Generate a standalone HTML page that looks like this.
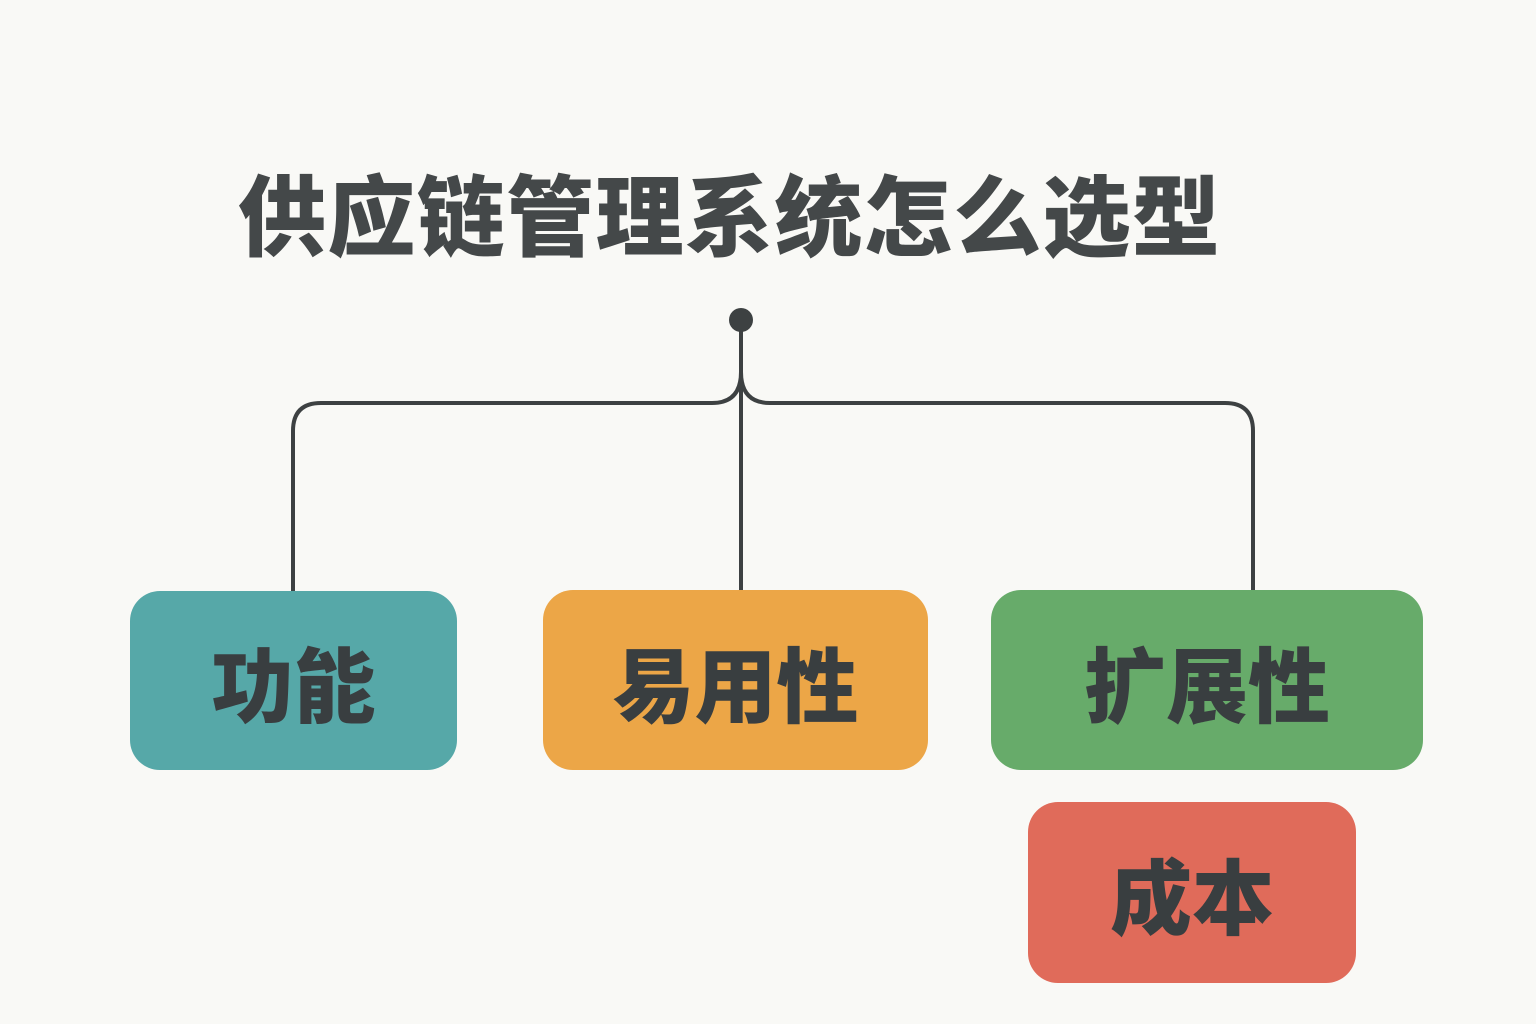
<!DOCTYPE html>
<html><head><meta charset="utf-8"><style>
body{margin:0;width:1536px;height:1024px;background:#f9f9f6;position:relative;overflow:hidden;font-family:"Liberation Sans","Noto Sans CJK SC",sans-serif;}
.t{position:absolute;left:238px;top:164px;font-size:88px;font-weight:900;color:#444849;letter-spacing:1.4px;line-height:110px;white-space:nowrap;}
.b{position:absolute;border-radius:30px;display:flex;align-items:center;justify-content:center;font-size:82px;font-weight:900;color:#393e40;}
</style></head><body>
<div class="t">供应链管理系统怎么选型</div>
<svg width="1536" height="1024" style="position:absolute;left:0;top:0">
<g fill="none" stroke="#3d4142" stroke-width="4">
<path d="M741 320 V591"/>
<path d="M741 372 Q741 403 712 403 H321 Q293 403 293 431 V591"/>
<path d="M741 372 Q741 403 770 403 H1225 Q1253 403 1253 431 V591"/>
</g>
<circle cx="741" cy="320" r="12" fill="#3d4142"/>
</svg>
<div class="b" style="left:130px;top:591px;width:327px;height:179px;background:#56a8a8">功能</div>
<div class="b" style="left:543px;top:590px;width:385px;height:180px;background:#eca647">易用性</div>
<div class="b" style="left:991px;top:590px;width:432px;height:180px;background:#67ab6a">扩展性</div>
<div class="b" style="left:1028px;top:802px;width:328px;height:181px;background:#e06b5a">成本</div>
</body></html>
